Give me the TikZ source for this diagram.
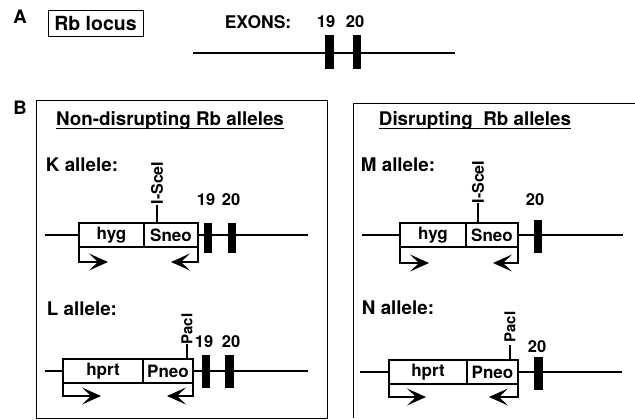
\documentclass[tikz,border=0pt]{standalone}
\usepackage{fontspec}
\setmainfont{TeX Gyre Heros}
\usetikzlibrary{arrows.meta}
\newcommand{\fsz}[1]{\fontsize{#1}{#1}\selectfont\bfseries}
\tikzset{
  every node/.style={inner sep=0pt, outer sep=0pt, text=black},
  panel/.style={font=\fsz{18.5}},
  title/.style={font=\fsz{18.8}},
  allele/.style={font=\fsz{18.8}},
  num/.style={font=\fsz{16.5}},
  site/.style={font=\fsz{15}, rotate=90},
  gbox/.style={draw, line width=1.4pt, minimum height=24pt, font=\fsz{17}, fill=white},
  exon/.style={fill=black, draw=none, minimum width=8.5pt},
  dna/.style={line width=2pt},
  tick/.style={line width=1.3pt},
  frame/.style={line width=0.9pt},
  brk/.style={line width=1.5pt, -{Stealth[length=19pt,width=17pt,inset=9pt]}},
}
\begin{document}
\begin{tikzpicture}[x=1pt,y=-1pt]
\useasboundingbox (0,0) rectangle (635,420);

% ---------- Panel A ----------
\node[panel] (lA) at (20,17) {A};
\node[draw, line width=0.8pt, minimum width=95pt, minimum height=26pt, font=\fsz{19.5}] (locus) at (95.5,23) {Rb locus};
\node[font=\fsz{17.5}] (exons) at (258,22) {EXONS:};
\node[num] (a19) at (326,22) {19};
\node[num] (a20) at (355,22) {20};
\coordinate (aL) at (193,53);
\coordinate (aR) at (455,53);
\draw[dna] (aL) -- (aR);
\node[exon, minimum height=34pt] (ae19) at (329.5,52) {};
\node[exon, minimum height=34pt] (ae20) at (357,52) {};

% ---------- Panel B frames ----------
\node[panel] (lB) at (20,108) {B};
\coordinate (f1a) at (36,100);
\coordinate (f1b) at (327,418);
\draw[frame] (f1a) rectangle (f1b);
\coordinate (f2a) at (353,418);
\coordinate (f2b) at (353,103);
\coordinate (f2c) at (635,103);
\draw[frame] (f2a) -- (f2b) -- (f2c);

\node[title] (t1) at (170,121) {Non-disrupting Rb alleles};
\draw[line width=1pt] ([yshift=-2.5pt]t1.base west) -- ([yshift=-2.5pt]t1.base east);
\node[title] (t2) at (475,121) {Disrupting\ \ Rb alleles};
\draw[line width=1pt] ([yshift=-2.5pt]t2.base west) -- ([yshift=-2.5pt]t2.base east);

% ---------- K allele ----------
\node[allele] (kl) at (82,165) {K allele:};
\node[gbox, minimum width=65pt] (khyg) at (111.5,235) {hyg};
\node[gbox, minimum width=54pt, anchor=west] (ksneo) at (khyg.east) {Sneo};
\coordinate (kL) at (45,235);
\coordinate (kR) at (308,235);
\draw[dna] (kL) -- (khyg.west);
\draw[dna] (ksneo.east) -- (kR);
\node[exon, minimum height=30pt] (k19) at (208,238) {};
\node[exon, minimum height=30pt] (k20) at (232,238) {};
\node[num] (k19t) at (206,200) {19};
\node[num] (k20t) at (231,200) {20};
\coordinate (ktk) at (157,205);
\draw[tick] (ktk) -- (ktk |- khyg.north);
\node[site, font=\fsz{16}] (ksite) at (157,183) {I-SceI};
\coordinate (ka1) at (108,262);
\coordinate (ka2) at (171,262);
\draw[brk] (khyg.south west) |- (ka1);
\draw[brk] (ksneo.south east) |- (ka2);

% ---------- L allele ----------
\node[allele] (ll) at (82,309) {L allele:};
\node[gbox, minimum width=80pt] (lhprt) at (103,371) {hprt};
\node[gbox, minimum width=50pt, anchor=west] (lpneo) at (lhprt.east) {Pneo};
\coordinate (lL) at (45,371);
\coordinate (lR) at (308,371);
\draw[dna] (lL) -- (lhprt.west);
\draw[dna] (lpneo.east) -- (lR);
\node[exon, minimum height=33pt] (l19) at (206,371.5) {};
\node[exon, minimum height=33pt] (l20) at (229.5,371.5) {};
\node[num] (l19t) at (204,342) {19};
\node[num] (l20t) at (231,342) {20};
\coordinate (ltk) at (187,344);
\draw[tick] (ltk) -- (ltk |- lhprt.north);
\node[site] (lsite) at (187,329) {PacI};
\coordinate (la1) at (101,396);
\coordinate (la2) at (167,396);
\draw[brk] (lhprt.south west) |- (la1);
\draw[brk] (lpneo.south east) |- (la2);

% ---------- M allele ----------
\node[allele] (ml) at (398,165) {M allele:};
\node[gbox, minimum width=66pt] (mhyg) at (433,235) {hyg};
\node[gbox, minimum width=52pt, anchor=west] (msneo) at (mhyg.east) {Sneo};
\coordinate (mL) at (362,235);
\coordinate (mR) at (623,235);
\draw[dna] (mL) -- (mhyg.west);
\draw[dna] (msneo.east) -- (mR);
\node[exon, minimum height=33pt] (m20) at (538,236.5) {};
\node[num] (m20t) at (535,200) {20};
\coordinate (mtk) at (478,203);
\draw[tick] (mtk) -- (mtk |- mhyg.north);
\node[site, font=\fsz{16}] (msite) at (478,182) {I-SceI};
\coordinate (ma1) at (429,263);
\coordinate (ma2) at (493,263);
\draw[brk] (mhyg.south west) |- (ma1);
\draw[brk] (msneo.south east) |- (ma2);

% ---------- N allele ----------
\node[allele] (nl) at (398,308) {N allele:};
\node[gbox, minimum width=78pt] (nhprt) at (428,372) {hprt};
\node[gbox, minimum width=51pt, anchor=west] (npneo) at (nhprt.east) {Pneo};
\coordinate (nL) at (360,372);
\coordinate (nR) at (622,372);
\draw[dna] (nL) -- (nhprt.west);
\draw[dna] (npneo.east) -- (nR);
\node[exon, minimum height=33pt] (n20) at (538.5,373.5) {};
\node[num] (n20t) at (537,347) {20};
\coordinate (ntk) at (510,345);
\draw[tick] (ntk) -- (ntk |- nhprt.north);
\node[site] (nsite) at (510,327) {PacI};
\coordinate (na1) at (426,397);
\coordinate (na2) at (489,397);
\draw[brk] (nhprt.south west) |- (na1);
\draw[brk] (npneo.south east) |- (na2);
\end{tikzpicture}
\end{document}
